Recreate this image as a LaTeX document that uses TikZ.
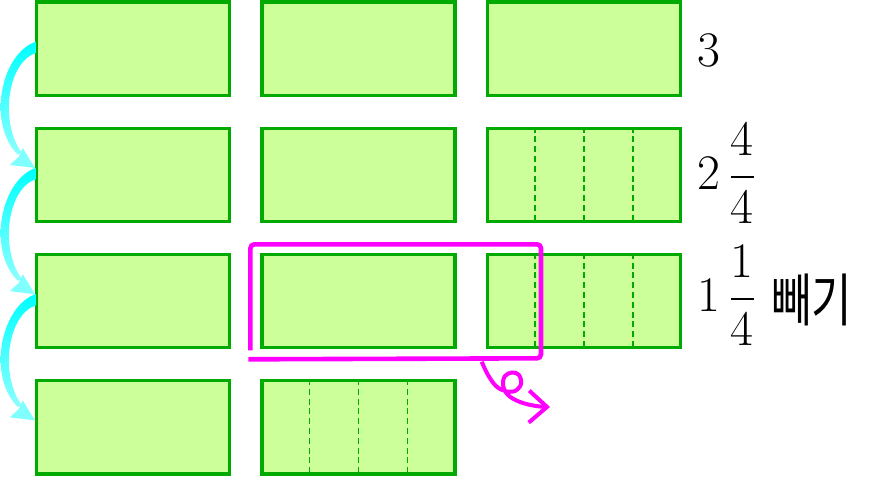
\documentclass[tikz,border=0pt]{standalone}
\usepackage{fontspec}
\usepackage{amsmath}
\usepackage{graphicx}
\usetikzlibrary{positioning, arrows.meta, calc}
\newfontfamily\kr{Noto Sans CJK KR}
\definecolor{cellfill}{RGB}{204,255,153}
\definecolor{cellline}{RGB}{0,170,0}
\definecolor{hilite}{RGB}{255,0,255}
\definecolor{aqua}{RGB}{0,255,255}

\begin{document}
\begin{tikzpicture}[
    x=0.5pt, y=-0.5pt,
    node distance=14.85pt and 14.7pt,
    cell/.style={rectangle, draw=cellline, fill=cellfill, line width=1.6pt, minimum width=96.5pt, minimum height=46.65pt, inner sep=0pt},
    quarter/.style={draw=cellline, line width=0.9pt, dash pattern=on 3pt off 1.9pt},
    lbl/.style={anchor=base west, inner sep=0pt, font=\fontsize{25}{30}\selectfont},
    hilitebox/.style={draw=hilite, line width=2.3pt, rounded corners=2pt},
    twirl/.style={draw=hilite, line width=2pt, -{Straight Barb[length=9pt, width=16pt]}},
    carry/.style={top color=aqua, bottom color=aqua!45}
]
    \useasboundingbox (0,0) rectangle (881,476);

    % columns of wholes
    \node[cell] (a1) at (132.9,48.65) {};
    \node[cell, below=of a1] (a2) {};
    \node[cell, below=of a2] (a3) {};
    \node[cell, below=of a3] (a4) {};
    \node[cell, right=of a1] (b1) {};
    \node[cell, right=of a2] (b2) {};
    \node[cell, right=of a3] (b3) {};
    \node[cell, right=of a4] (b4) {};
    \node[cell, right=of b1] (c1) {};
    \node[cell, right=of b2] (c2) {};
    \node[cell, right=of b3] (c3) {};

    % quarters
    \foreach \b in {c2, c3, b4}
        \foreach \k in {1,2,3}
            \draw[quarter] ($(\b.north west)!\k/4!(\b.north east)$) -- ($(\b.south west)!\k/4!(\b.south east)$);

    % labels
    \node[lbl] (n3) at (697,66.5) {$3$};
    \node[lbl] (n2) at (697,189) {$2\,\dfrac{4}{4}$};
    \node[lbl] (n1) at (697,311.5) {$1\,\dfrac{1}{4}$\ \raisebox{-4.8pt}{\scalebox{0.88}[1.15]{\kr 빼기}}};

    % step-down arrows
    \foreach \s in {a1, a2, a3} {
        \begin{scope}[shift={(\s.west)}]
            \shade[carry] (1,-7) .. controls (-34,5) and (-48,75) .. (-17,106)
                -- (-13,104) .. controls (-35,75) and (-28,14) .. (1,4.3) -- cycle;
            \fill[aqua!50] (0,119.3) -- (-25,116.3) -- (-16,108) -- (-12,99.3) -- cycle;
        \end{scope}
    }

    % take away
    \draw[hilitebox] ($(b3.south west)+(-10,1)$) -- ($(b3.north west)+(-10,-8.5)$)
        -- ($(c3.north west)+(55,-8.5)$) -- ($(c3.south west)+(55,9)$) -- ($(b3.south west)+(-12,10)$);
    \draw[twirl] plot[smooth, tension=0.6] coordinates {(481.7,361.7) (488,375) (496,386) (505,391) (515,391) (521,384) (519,375) (512,372.5) (505,376) (503,385) (508,395) (520,402) (536,406) (550,407)};
\end{tikzpicture}
\end{document}
